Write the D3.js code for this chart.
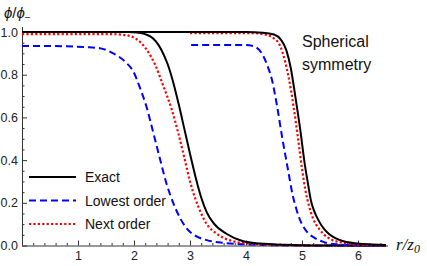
<!DOCTYPE html>
<html>
<head>
<meta charset="utf-8">
<script src="https://cdn.jsdelivr.net/npm/d3@7"></script>
<style>
  body { margin: 0; background: #fff; }
  svg { display: block; font-family: "Liberation Sans", Arial, sans-serif; }
</style>
</head>
<body>
<div id="chart"></div>
<script>
// curves: [r/z0, phi/phi-]
var exact1 = [[0,1],[1.9,1],[2.05,0.998],[2.29,0.98],[2.49,0.916],[2.6,0.85],[2.7,0.765],[2.8,0.66],[2.9,0.545],[3.0,0.43],[3.1,0.32],[3.2,0.225],[3.3,0.155],[3.42,0.105],[3.65,0.055],[3.95,0.02],[4.25,0.009],[4.7,0.003],[5.2,0],[6.5,0]];
var next1 = [[0,0.99],[1.6,0.99],[1.8,0.987],[1.98,0.976],[2.23,0.916],[2.38,0.845],[2.52,0.75],[2.67,0.64],[2.79,0.527],[2.9,0.41],[3.0,0.3],[3.1,0.215],[3.2,0.15],[3.3,0.1],[3.48,0.055],[3.8,0.018],[4.2,0.006],[4.8,0.001],[5.4,0],[6.5,0]];
var lowest1 = [[0,0.935],[0.8,0.933],[1.2,0.928],[1.39,0.924],[1.63,0.9],[1.84,0.861],[1.99,0.814],[2.11,0.736],[2.23,0.644],[2.34,0.533],[2.46,0.41],[2.58,0.29],[2.7,0.2],[2.82,0.13],[2.94,0.08],[3.1,0.045],[3.3,0.025],[3.6,0.012],[4.0,0.005],[4.6,0.001],[5.2,0],[6.5,0]];
var exact2 = [[0,1],[4.0,1],[4.3,0.997],[4.5,0.988],[4.62,0.965],[4.72,0.915],[4.8,0.83],[4.88,0.7],[4.97,0.54],[5.05,0.38],[5.1,0.3],[5.16,0.21],[5.22,0.16],[5.29,0.12],[5.4,0.075],[5.5,0.05],[5.74,0.02],[6.1,0.007],[6.5,0.002]];
var next2 = [[3.0,0.995],[4.1,0.995],[4.3,0.99],[4.5,0.97],[4.61,0.935],[4.7,0.86],[4.76,0.79],[4.85,0.65],[4.93,0.5],[5.0,0.36],[5.06,0.26],[5.12,0.19],[5.2,0.125],[5.3,0.08],[5.38,0.055],[5.55,0.025],[5.7,0.014],[6.0,0.004],[6.5,0.001]];
var lowest2 = [[3.02,0.939],[4.0,0.939],[4.15,0.932],[4.3,0.892],[4.4,0.83],[4.46,0.78],[4.55,0.66],[4.65,0.5],[4.75,0.355],[4.83,0.24],[4.9,0.17],[4.95,0.13],[5.02,0.09],[5.1,0.06],[5.23,0.035],[5.38,0.017],[5.6,0.006],[6.0,0.001],[6.5,0]];

var xTicks = [1, 2, 3, 4, 5, 6];
var yTicks = [0, 0.2, 0.4, 0.6, 0.8, 1.0];
var legendNames = ['Exact', 'Lowest order', 'Next order'];

var width = 427, height = 266;

var x = d3.scaleLinear().domain([0, 6.5]).range([22, 386]);
var y = d3.scaleLinear().domain([0, 1]).range([245.5, 32]);

var svg = d3.select('#chart').append('svg')
  .attr('width', width)
  .attr('height', height);

//styles per series
var styles = {
  exact: { color: '#000', dash: null, w: 2 },
  lowest: { color: '#0000ff', dash: '7,4', w: 2 },
  next: { color: '#ff0000', dash: '2.2,2.2', w: 2.2 }
};

var series = [
  { d: lowest1, s: styles.lowest },
  { d: next1, s: styles.next },
  { d: exact1, s: styles.exact },
  { d: lowest2, s: styles.lowest },
  { d: next2, s: styles.next },
  { d: exact2, s: styles.exact }
];

var line = d3.line()
  .x(function(d) { return x(d[0]); })
  .y(function(d) { return y(d[1]); })
  .curve(d3.curveMonotoneX);

// x axis: minor ticks then major ticks with labels
var xMinor = d3.range(0.2, 6.5, 0.2).filter(function(v) { return Math.abs(v - Math.round(v)) > 0.01; });
svg.append('g')
  .attr('transform', 'translate(0,' + y(0) + ')')
  .call(d3.axisBottom(x).tickValues(xMinor).tickSize(-2.5).tickFormat(''))
  .call(function(g) { g.select('.domain').remove(); });

svg.append('g')
  .attr('class', 'xaxis')
  .attr('transform', 'translate(0,' + y(0) + ')')
  .call(d3.axisBottom(x).tickValues(xTicks).tickSize(-5).tickSizeOuter(0).tickPadding(6).tickFormat(d3.format('d')));

var yMinor = d3.range(0.05, 1.0, 0.05).filter(function(v) { return Math.abs(v * 5 - Math.round(v * 5)) > 0.01; });
svg.append('g')
  .attr('transform', 'translate(' + x(0) + ',0)')
  .call(d3.axisLeft(y).tickValues(yMinor).tickSize(-2.5).tickFormat(''))
  .call(function(g) { g.select('.domain').remove(); });

svg.append('g')
  .attr('class', 'yaxis')
  .attr('transform', 'translate(' + x(0) + ',0)')
  .call(d3.axisLeft(y).tickValues(yTicks).tickSize(-5).tickSizeOuter(0).tickPadding(4).tickFormat(d3.format('.1f')));

svg.selectAll('.xaxis .domain').attr('d', 'M' + x(0) + ',0.5H' + (x(6.5) + 2));
svg.selectAll('.yaxis .domain').attr('d', 'M0.5,' + (y(0)) + 'V' + (y(1) - 5));
svg.selectAll('.tick line, .domain').attr('stroke', '#333').attr('stroke-width', 1);
svg.selectAll('.tick text').attr('font-size', 12.5).attr('fill', '#222')
  .attr('font-family', '"Liberation Sans", Arial, sans-serif');

// curves
svg.append('g').selectAll('path')
  .data(series)
  .enter().append('path')
  .attr('d', function(d) { return line(d.d); })
  .attr('fill', 'none')
  .attr('stroke', function(d) { return d.s.color; })
  .attr('stroke-width', function(d) { return d.s.w; })
  .attr('stroke-dasharray', function(d) { return d.s.dash; });

// axis labels
var yl = svg.append('text')
  .attr('x', 4).attr('y', 18)
  .attr('font-size', 15).attr('fill', '#111');
yl.append('tspan').attr('font-style', 'italic').text('ϕ');
yl.append('tspan').text('/');
yl.append('tspan').attr('font-style', 'italic').text('ϕ');
yl.append('tspan').attr('font-size', 10).attr('dy', 3).text('−');

var xl = svg.append('text')
  .attr('x', 396).attr('y', 250)
  .attr('font-family', '"Liberation Serif", "Times New Roman", serif')
  .attr('font-style', 'italic')
  .attr('font-size', 17).attr('fill', '#111');
xl.append('tspan').text('r/z');
xl.append('tspan').attr('font-size', 12).attr('dy', 3).text('0');

svg.append('text')
  .attr('x', 302).attr('y', 47)
  .attr('font-size', 16).attr('fill', '#111')
  .text('Spherical');
svg.append('text')
  .attr('x', 302).attr('y', 70)
  .attr('font-size', 16).attr('fill', '#111')
  .text('symmetry');

// legend
var legendStyles = [styles.exact, styles.lowest, styles.next];
var legend = svg.append('g')
  .selectAll('g')
  .data(legendNames)
  .enter().append('g')
  .attr('transform', function(d, i) { return 'translate(0,' + (177 + i * 23.5) + ')'; });

legend.append('line')
  .attr('x1', 29).attr('x2', 76)
  .attr('stroke', function(d, i) { return legendStyles[i].color; })
  .attr('stroke-width', function(d, i) { return legendStyles[i].w; })
  .attr('stroke-dasharray', function(d, i) { return legendStyles[i].dash; });

legend.append('text')
  .attr('x', 85).attr('y', 5)
  .attr('font-size', 14).attr('fill', '#111')
  .text(function(d) { return d; });
</script>
</body>
</html>
